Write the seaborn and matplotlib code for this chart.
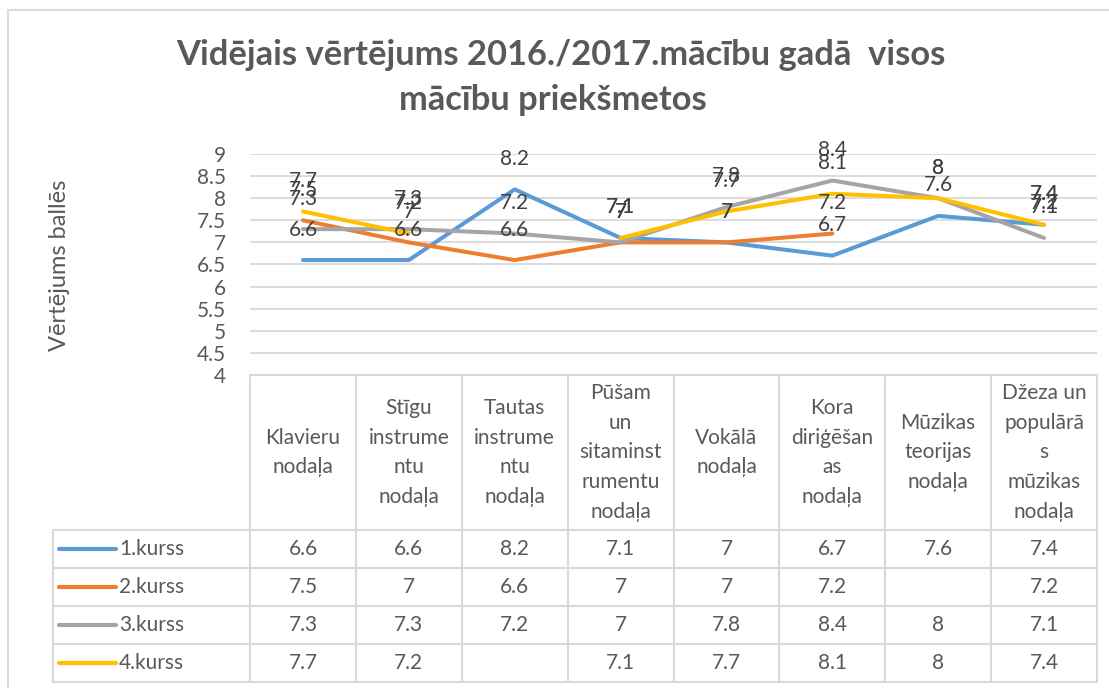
"""
Vidējais vērtējums 2016./2017. mācību gadā - līniju diagramma ar datu tabulu
"""
import numpy as np
import pandas as pd
import matplotlib
matplotlib.use('Agg')
import matplotlib.pyplot as plt
import seaborn as sns

categories = [
    'Klavieru\nnodaļa',
    'Stīgu\ninstrume\nntu\nnodaļa',
    'Tautas\ninstrume\nntu\nnodaļa',
    'Pūšam\nun\nsitaminst\nrumentu\nnodaļa',
    'Vokālā\nnodaļa',
    'Kora\ndiriģēšan\nas\nnodaļa',
    'Mūzikas\nteorijas\nnodaļa',
    'Džeza un\npopulārā\ns\nmūzikas\nnodaļa',
]
series_names = ['1.kurss', '2.kurss', '3.kurss', '4.kurss']
kurss1 = [6.6, 6.6, 8.2, 7.1, 7, 6.7, 7.6, 7.4]
kurss2 = [7.5, 7, 6.6, 7, 7, 7.2, np.nan, 7.2]
kurss3 = [7.3, 7.3, 7.2, 7, 7.8, 8.4, 8, 7.1]
kurss4 = [7.7, 7.2, np.nan, 7.1, 7.7, 8.1, 8, 7.4]
series_values = [kurss1, kurss2, kurss3, kurss4]
colors = ['#5B9BD5', '#ED7D31', '#A5A5A5', '#FFC000']
y_ticks = [4, 4.5, 5, 5.5, 6, 6.5, 7, 7.5, 8, 8.5, 9]

title_line1 = 'Vidējais vērtējums 2016./2017.mācību gadā  visos'
title_line2 = 'mācību priekšmetos'
y_label = 'Vērtējums ballēs'

sns.set_style('white')
plt.rcParams['font.family'] = ['Lato', 'DejaVu Sans']

TXT = '#595959'
LBL = '#404040'
GRID = '#d9d9d9'
FS = 15
W, H = 1109, 688

# long table, gaps split into separate units so lines break at missing values
rows = []
for name, vals in zip(series_names, series_values):
    seg = 0
    for i, v in enumerate(vals):
        if np.isnan(v):
            seg += 1
            continue
        rows.append({'series': name, 'pos': i, 'value': v, 'seg': f'{name}-{seg}'})
df = pd.DataFrame(rows)

fig = plt.figure(figsize=(W / 100, H / 100), dpi=100)

# chart border
fig.patches.append(plt.Rectangle((8 / W, -0.1), 1.2, 1 - 10 / H + 0.1, transform=fig.transFigure,
                                 fill=False, edgecolor=GRID, lw=1.5))

fig.text(561 / W, 1 - 55 / H, title_line1, ha='center', va='center',
         fontsize=24.8, fontweight='bold', color=TXT)
fig.text(553 / W, 1 - 100 / H, title_line2, ha='center', va='center',
         fontsize=24.8, fontweight='bold', color=TXT)

x_left, x_right = 250, 1097
y_top, y_bot = 154, 375
ax = fig.add_axes([x_left / W, 1 - y_bot / H, (x_right - x_left) / W, (y_bot - y_top) / H])

sns.lineplot(data=df, x='pos', y='value', hue='series', units='seg', estimator=None,
             palette=dict(zip(series_names, colors)), hue_order=series_names,
             lw=2.9, legend=False, ax=ax, sort=False,
             solid_capstyle='round', solid_joinstyle='round')

for name, vals in zip(series_names, series_values):
    for i, v in enumerate(vals):
        if np.isnan(v):
            continue
        ax.annotate(f'{v:g}', (i, v), xytext=(0, 22), textcoords='offset points',
                    ha='center', va='center', fontsize=FS, color=LBL, annotation_clip=False)

ax.set_xlim(-0.5, 7.5)
ax.set_ylim(4, 9)
ax.set_yticks(y_ticks)
ax.set_yticklabels([f'{t:g}' for t in y_ticks])
ax.set_xticks([])
ax.set_xlabel('')
ax.set_ylabel('')
ax.yaxis.grid(True, color=GRID, lw=1.3)
ax.set_axisbelow(True)
ax.tick_params(axis='y', length=0, pad=17, labelsize=FS, labelcolor=TXT)
for s in ax.spines.values():
    s.set_visible(False)

fig.text(60 / W, 1 - 265 / H, y_label, rotation=90, ha='center', va='center',
         fontsize=17, color=TXT)

# data table under the plot
t_left, t_bot = 53, 682
col_w = (x_right - x_left) / len(categories)
tax = fig.add_axes([t_left / W, 1 - t_bot / H, (x_right - t_left) / W, (t_bot - y_bot) / H])
xmin = -0.5 - (x_left - t_left) / col_w
tax.set_xlim(xmin, 7.5)
tbl_h = t_bot - y_bot
tax.set_ylim(tbl_h, 0)
tax.axis('off')

head_h = 155
row_h = (tbl_h - head_h) / len(series_names)
line_kw = dict(color=GRID, lw=1.5, clip_on=False)

tax.plot([-0.5, 7.5], [0, 0], **line_kw)
for k in range(len(categories) + 1):
    tax.plot([-0.5 + k, -0.5 + k], [0, tbl_h], **line_kw)
tax.plot([xmin, xmin], [head_h, tbl_h], **line_kw)
for r in range(len(series_names) + 1):
    y = head_h + row_h * r
    tax.plot([xmin, 7.5], [y, y], **line_kw)

for i, cat in enumerate(categories):
    tax.text(i, head_h / 2, cat, ha='center', va='center', fontsize=FS,
             color=TXT, linespacing=1.62)

for r, (name, vals, c) in enumerate(zip(series_names, series_values, colors)):
    yc = head_h + row_h * (r + 0.5)
    tax.plot([xmin + 6 / col_w, xmin + 63 / col_w], [yc, yc], color=c, lw=3,
             solid_capstyle='round', clip_on=False)
    tax.text(xmin + 66 / col_w, yc, name, ha='left', va='center', fontsize=FS, color=TXT)
    for i, v in enumerate(vals):
        if not np.isnan(v):
            tax.text(i, yc, f'{v:g}', ha='center', va='center', fontsize=FS, color=TXT)

fig.savefig('out.png', dpi=100)
plt.close(fig)
